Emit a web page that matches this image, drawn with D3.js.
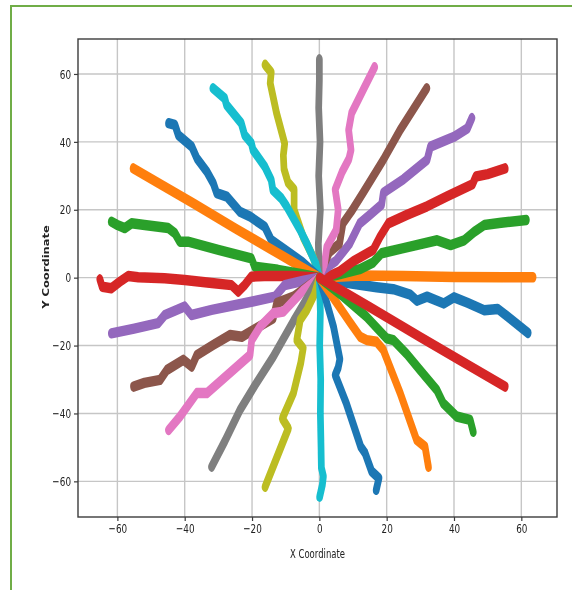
<!DOCTYPE html>
<html>
<head>
<meta charset="utf-8">
<script src="https://cdn.jsdelivr.net/npm/d3@7"></script>
<style>
  html, body { margin: 0; padding: 0; background: #fff; }
  svg { display: block; }
  text { font-family: "DejaVu Sans", sans-serif; fill: #222; }
</style>
</head>
<body>
<svg id="chart" width="572" height="590"></svg>
<script>
// ---------- data ----------
const xTicks = [-60, -40, -20, 0, 20, 40, 60];
const yTicks = [-60, -40, -20, 0, 20, 40, 60];
const xLabel = "X Coordinate";
const yLabel = "Y Coordinate";
const palette = ["#1f77b4", "#ff7f0e", "#2ca02c", "#d62728", "#9467bd",
                 "#8c564b", "#e377c2", "#7f7f7f", "#bcbd22", "#17becf"];

const ray00 = [[0,0],[5,-1],[10,-1.8],[17,-2.8],[22,-3.4],[27,-5],[29,-6.8],[32,-5.6],[37,-7.6],[40,-5.8],[44,-7.4],[49,-9.6],[53,-9.2],[56,-11.5],[62,-16.3]];
const ray01 = [[0,0],[12,0.6],[25,0.5],[40,0.2],[55,0.1],[63.5,0.1]];
const ray02 = [[0,0],[5,0.8],[12,2.5],[16,4.5],[18.5,7.2],[25,8.7],[35,11],[39,9.6],[43,11],[46,13.5],[49,15.5],[54,16.2],[61.5,17]];
const ray03 = [[0,0],[3,0.5],[6,1.8],[10,4.8],[16,8.2],[18,12],[20.5,16],[26,18.5],[32,21],[38,24],[45.5,27.5],[46.5,29.8],[50,30.5],[55.2,32.2]];
const ray04 = [[0,0],[1.2,2.3],[5,5],[9,10],[12,16],[15,18.5],[18.5,21.5],[19,25],[25,29],[32,34.7],[33,38.6],[40,41.5],[44,44],[45.3,47]];
const ray05 = [[0,0],[1,3],[3,7.5],[6,10],[7,16],[9.5,19.5],[13,25],[19,34.7],[24,43.5],[31.9,55.8]];
const ray06 = [[0,0],[1.5,4],[2.2,9],[5,14],[5.6,20],[4.7,26],[6.7,31],[8.8,35],[9.4,37.6],[8.7,43.5],[9.6,48.5],[13,55.3],[16.4,62]];
const ray07 = [[0,0],[-0.3,10],[0.3,20],[-0.2,30],[0.2,40],[-0.2,50],[0,58],[0,64.3]];
const ray08 = [[0,0],[-1.8,6],[-4.8,12],[-6.5,17],[-7.5,20],[-7.5,26],[-9.3,28],[-10.5,32],[-10.7,36],[-10.3,39.5],[-12.7,48.4],[-14.6,57.3],[-14.3,60.5],[-16.1,62.7]];
const ray09 = [[0,0],[-1,4],[-3.7,10],[-5.7,14],[-9.7,21],[-11.3,23.4],[-13.8,25.8],[-14.3,28.8],[-16.2,32.7],[-19.7,37.6],[-20.2,39.6],[-22.2,42],[-23.2,45.5],[-27.6,50.9],[-28.1,52.8],[-31.6,55.8]];
const ray10 = [[0,0],[-5,4.5],[-10.2,8.2],[-14.3,11.1],[-16.2,15],[-20.6,18],[-23.6,19.4],[-27.5,23.9],[-30.5,24.9],[-31.5,27.8],[-33.4,31.2],[-36.4,35.2],[-37.9,38.6],[-41.9,42],[-42.9,45],[-44.8,45.5]];
const ray11 = [[0,0],[-12,7],[-25,14.5],[-37.4,21.9],[-47,27.4],[-55.3,32.2]];
const ray12 = [[0,0],[-6,1.2],[-12.3,2.3],[-19.2,3.2],[-20.2,5.7],[-30,8.2],[-39,10.6],[-41.5,10.6],[-42.9,13.1],[-44.9,14.6],[-51.9,15.5],[-55.8,16],[-57.8,14.6],[-60,15.5],[-61.8,16.5]];
const ray13 = [[0,0],[-8,0.5],[-16.2,0.5],[-20.2,0.3],[-22.2,-2.2],[-24.1,-4.1],[-26.1,-2.2],[-32,-1.6],[-40,-0.7],[-46,-0.2],[-53.8,0.1],[-56.8,0.5],[-59.3,-1.2],[-61.8,-3.1],[-64.5,-2.7],[-65.2,-0.5]];
const ray14 = [[0,0],[-5,-1],[-10.3,-2.2],[-13.2,-5.6],[-20.2,-7.1],[-32,-9.5],[-38,-11],[-40,-8.5],[-45.9,-11],[-47.9,-13.4],[-55,-15],[-61.8,-16.4]];
const ray15 = [[0,0],[-7.7,-5.6],[-12.7,-7.5],[-13.7,-12],[-19.6,-15.4],[-23,-17.4],[-26.5,-16.9],[-31.5,-19.8],[-36.4,-22.8],[-37.9,-26.2],[-40.4,-24.2],[-45.3,-27.2],[-47.3,-30.1],[-52,-31],[-55.2,-32.1]];
const ray16 = [[0,0],[-5,-4],[-10.7,-10],[-13.7,-10.5],[-17.6,-14.4],[-20.1,-18.4],[-20.6,-22.8],[-33.4,-34],[-36.4,-34],[-41.4,-40.9],[-44.8,-44.9]];
const ray17 = [[0,0],[-7.7,-12.8],[-13.7,-23.3],[-19,-31.5],[-23.6,-39],[-28,-48],[-32,-55.7]];
const ray18 = [[0,0],[-1.5,-5],[-3.7,-9.5],[-5.7,-12.5],[-6.7,-18.4],[-4.8,-20.8],[-5.5,-25],[-7.7,-34],[-11,-41.5],[-9.2,-44.4],[-16.1,-61.6]];
const ray19 = [[0,0],[0.3,-10],[0.1,-20],[0.4,-30],[0.3,-40],[0.5,-50],[0.6,-56],[1.2,-58.5],[0.9,-61],[0.1,-64.5]];
const ray20 = [[0,0],[1.5,-5],[4.2,-14.4],[6.1,-24],[5.6,-26.5],[4.7,-28.7],[8,-37],[12.3,-49.8],[13.6,-51.7],[15.5,-57],[17.7,-59.1],[16.9,-62.5]];
const ray21 = [[0,0],[5.2,-7.5],[9,-13],[12.1,-17.4],[14.1,-18.4],[17,-18.9],[19,-21.3],[24,-34],[28.9,-47.8],[31.4,-49.8],[32.4,-55.7]];
const ray22 = [[0,0],[7.1,-5.6],[14,-11.5],[20,-17.9],[22,-18.4],[26,-22.5],[29.9,-27.2],[34.9,-33.1],[36.8,-37],[40.8,-40.9],[44.8,-41.9],[45.7,-45.4]];
const ray23 = [[0,0],[15,-8.7],[30,-17.5],[45,-26.2],[55.2,-32.1]];

const rays = [ray00, ray01, ray02, ray03, ray04, ray05, ray06, ray07, ray08, ray09, ray10, ray11,
              ray12, ray13, ray14, ray15, ray16, ray17, ray18, ray19, ray20, ray21, ray22, ray23];

// ---------- layout ----------
const L = 78, R = 557, T = 39, B = 517;
const SX = 0.64;           // horizontal squeeze of the marker pen
const TX = 0.68;           // horizontal squeeze of glyphs
const cx = (L + R) / 2;

const svg = d3.select("#chart");
const defs = svg.append("defs");
defs.append("filter").attr("id", "soft")
  .attr("x", "-5%").attr("y", "-5%").attr("width", "110%").attr("height", "110%")
  .append("feGaussianBlur").attr("stdDeviation", 0.45);

const root = svg.append("g").attr("filter", "url(#soft)");

// outer green frame
root.append("line").attr("x1", 11).attr("y1", 6).attr("x2", 572).attr("y2", 6)
  .attr("stroke", "#70ad47").attr("stroke-width", 2);
root.append("line").attr("x1", 11).attr("y1", 5).attr("x2", 11).attr("y2", 590)
  .attr("stroke", "#70ad47").attr("stroke-width", 2);

const x = d3.scaleLinear().domain([-71.7, 70.6]).range([L, R]);
const y = d3.scaleLinear().domain([-70.5, 70.3]).range([B, T]);
// scale used inside the horizontally squeezed group
const xs = d3.scaleLinear().domain(x.domain())
  .range([cx + (L - cx) / SX, cx + (R - cx) / SX]);

// grid
const grid = root.append("g");
grid.selectAll(".gx").data(xTicks).join("line")
  .attr("x1", d => x(d)).attr("x2", d => x(d)).attr("y1", T).attr("y2", B)
  .attr("stroke", "#c6c6c6").attr("stroke-width", 1.4);
grid.selectAll(".gy").data(yTicks).join("line")
  .attr("y1", d => y(d)).attr("y2", d => y(d)).attr("x1", L).attr("x2", R)
  .attr("stroke", "#c6c6c6").attr("stroke-width", 1.4);

// rays
const line = d3.line().x(d => xs(d[0])).y(d => y(d[1])).curve(d3.curveLinear);
const marks = root.append("g")
  .attr("transform", `translate(${cx},0) scale(${SX},1) translate(${-cx},0)`);
marks.selectAll("path").data(rays).join("path")
  .attr("d", line)
  .attr("fill", "none")
  .attr("stroke", (d, i) => palette[i % palette.length])
  .attr("stroke-width", 10.5)
  .attr("stroke-linecap", "round")
  .attr("stroke-linejoin", "round");

// frame
root.append("rect").attr("x", L).attr("y", T).attr("width", R - L).attr("height", B - T)
  .attr("fill", "none").attr("stroke", "#3c3c3c").attr("stroke-width", 1.4);

// axes
const xAxis = root.append("g").attr("transform", `translate(0,${B})`)
  .call(d3.axisBottom(x).tickValues(xTicks).tickSize(4).tickPadding(3));
const yAxis = root.append("g").attr("transform", `translate(${L},0)`)
  .call(d3.axisLeft(y).tickValues(yTicks).tickSize(4).tickPadding(3));
[xAxis, yAxis].forEach(a => {
  a.select(".domain").remove();
  a.selectAll(".tick line").attr("stroke", "#3c3c3c").attr("stroke-width", 1.2);
  a.selectAll(".tick text").attr("font-size", 13).attr("fill", "#222")
    .attr("font-family", "DejaVu Sans, sans-serif");
});
xAxis.selectAll(".tick text").attr("transform", `scale(${TX},1)`);
yAxis.selectAll(".tick text").attr("x", -7 / TX).attr("transform", `scale(${TX},1)`);

// axis labels
root.append("text")
  .attr("transform", `translate(${cx},558) scale(${TX},1)`)
  .attr("text-anchor", "middle").attr("font-size", 12.5).text(xLabel);
root.append("text")
  .attr("transform", `translate(49,267) scale(${TX},1) rotate(-90)`)
  .attr("text-anchor", "middle").attr("font-size", 11.5).attr("font-weight", 600).text(yLabel);
</script>
</body>
</html>
